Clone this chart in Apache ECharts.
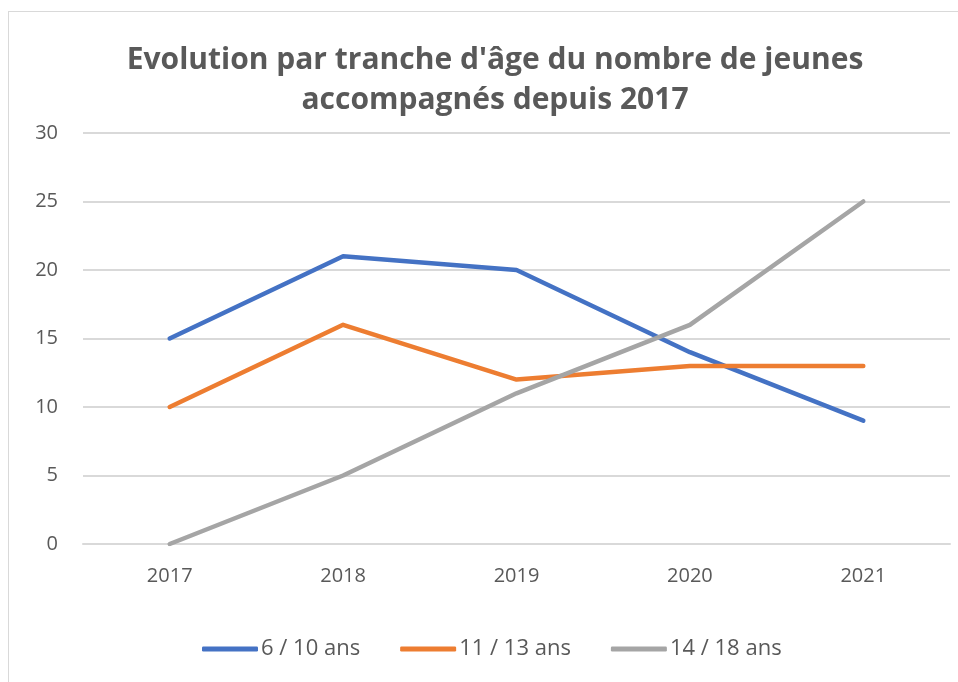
<!DOCTYPE html>
<html><head><meta charset="utf-8">
<script src="https://cdn.jsdelivr.net/npm/echarts@6/dist/echarts.min.js"></script>
<style>
html,body{margin:0;padding:0;background:#fff;overflow:hidden}
#frame{position:absolute;left:8px;top:11px;width:1000px;height:700px;border:1px solid #d9d9d9;box-sizing:border-box}
#chart{position:absolute;left:0;top:0;width:958px;height:682px}
</style></head>
<body><div id="frame"></div><div id="chart"></div>
<script>
const titleText = "Evolution par tranche d'âge du nombre de jeunes\naccompagnés depuis 2017";
const categories = ['2017','2018','2019','2020','2021'];
const seriesNames = ['6 / 10 ans','11 / 13 ans','14 / 18 ans'];
const s6_10 = [15,21,20,14,9];
const s11_13 = [10,16,12,13,13];
const s14_18 = [0,5,11,16,25];
const colors = ['#4472C4','#ED7D31','#A5A5A5'];
const values = [s6_10, s11_13, s14_18];
const font = '"Open Sans", "Noto Sans", sans-serif';
const chart = echarts.init(document.getElementById('chart'), null, {renderer:'canvas'});
chart.setOption({
  animation:false,
  title:{text:titleText,left:490,textAlign:'center',top:35,
    textStyle:{fontFamily:font,fontSize:30,fontWeight:'bold',color:'#595959',lineHeight:40}},
  legend:{bottom:17,left:197,itemWidth:56,itemHeight:5,itemGap:40,icon:'roundRect',
    textStyle:{fontFamily:font,fontSize:22,color:'#595959',padding:[0,0,0,-2]},
    data:seriesNames},
  grid:{left:83,right:8,top:133,bottom:138},
  xAxis:{type:'category',data:categories,boundaryGap:true,
    axisLine:{show:true,lineStyle:{color:'#d9d9d9',width:2}},axisTick:{show:false},
    axisLabel:{fontFamily:font,fontSize:20,color:'#595959',margin:22}},
  yAxis:{type:'value',min:0,max:30,interval:5,
    axisLine:{show:false},axisTick:{show:false},
    splitLine:{lineStyle:{color:'#d9d9d9',width:2}},
    axisLabel:{fontFamily:font,fontSize:20,color:'#595959',margin:25}},
  series: seriesNames.map((n,i)=>({name:n,type:'line',data:values[i],symbol:'none',
    lineStyle:{width:4.5,color:colors[i],cap:'round',join:'round'},itemStyle:{color:colors[i]}}))
});
</script></body></html>
